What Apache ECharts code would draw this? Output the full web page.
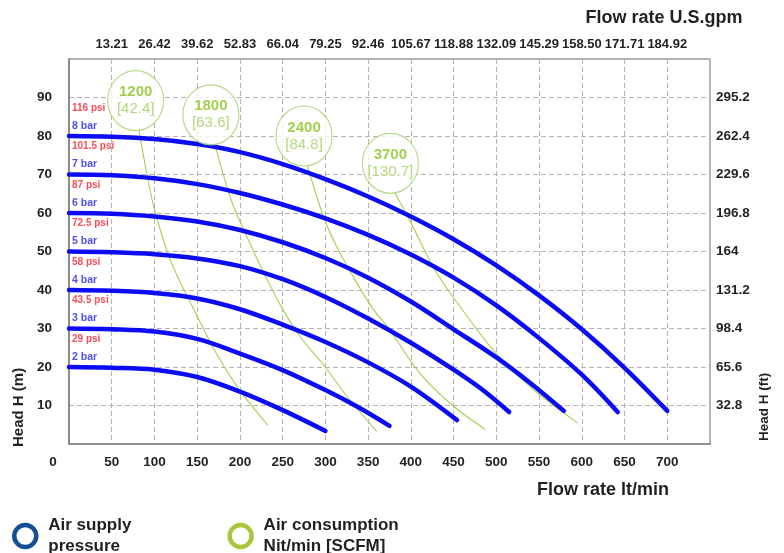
<!DOCTYPE html>
<html><head><meta charset="utf-8">
<script src="https://cdn.jsdelivr.net/npm/echarts@6/dist/echarts.min.js"></script>
<style>html,body{margin:0;padding:0;background:#fff}#c{width:784px;height:553px}</style>
</head><body><div id="c"></div>
<script>
// ---- tick labels ----
const bottomTicks = [0, 50, 100, 150, 200, 250, 300, 350, 400, 450, 500, 550, 600, 650, 700];
const topTickLabels = ['13.21','26.42','39.62','52.83','66.04','79.25','92.46','105.67','118.88','132.09','145.29','158.50','171.71','184.92'];
const leftTicks = [10, 20, 30, 40, 50, 60, 70, 80, 90];
const rightTickLabels = ['32.8','65.6','98.4','131.2','164','196.8','229.6','262.4','295.2'];

// ---- air supply pressure curves [flow lt/min, head m] ----
const pressureBar = ['8 bar','7 bar','6 bar','5 bar','4 bar','3 bar','2 bar'];
const pressurePsi = ['116 psi','101.5 psi','87 psi','72.5 psi','58 psi','43.5 psi','29 psi'];
const pressureHead = [80, 70, 60, 50, 40, 30, 20];
const curve8bar = [[0,80],[50,79.8],[100,79.2],[150,77.9],[200,75.8],[250,72.7],[300,68.8],[350,64.3],[400,59.1],[450,53.2],[500,46.4],[550,38.6],[600,29.8],[650,19.8],[700,8.6]];
const curve7bar = [[0,70],[50,69.8],[100,69],[150,67.5],[200,65.2],[250,62.2],[300,58.6],[350,54.3],[400,49.2],[450,43.2],[500,36],[550,27.5],[600,18],[642,8.3]];
const curve6bar = [[0,60],[50,59.8],[100,59.1],[150,57.8],[200,55.6],[250,52.4],[300,48.3],[350,43.2],[400,37],[450,29.8],[500,22.5],[540,15.8],[579,8.6]];
const curve5bar = [[0,50],[50,49.8],[100,49.3],[150,48.2],[200,46.2],[250,42.8],[300,38.2],[350,32.6],[400,26.3],[450,19.3],[483,14.2],[515,8.3]];
const curve4bar = [[0,40],[50,39.8],[100,39.2],[150,37.8],[200,35],[250,31],[300,26.5],[350,21.2],[400,14.9],[454,6.2]];
const curve3bar = [[0,30],[50,29.8],[100,29.2],[150,27.3],[200,23.5],[250,19.2],[300,14],[338,9.6],[375,4.7]];
const curve2bar = [[0,20],[50,19.8],[100,19.3],[150,17.4],[200,13.6],[250,8.8],[300,3.4]];

// ---- air consumption lines ----
const airLabels = ['1200','1800','2400','3700'];
const airScfm = ['42.4','63.6','84.8','130.7'];
const bubbleFlow = [78, 166, 275, 376];
const bubbleHead = [89.2, 85.5, 80, 72.9];
const air1200 = [[82,81.4],[92,69],[101,60],[120,47],[150,33.2],[172,23.7],[199,14.2],[233,4.8]];
const air1800 = [[171,77.5],[191,62.6],[210,53],[226,45.3],[247,36.2],[270,28],[299,20.2],[325,12.4],[360,3.3]];
const air2400 = [[279,72.1],[299,58.3],[315,50.5],[335,42.5],[355,35.3],[375,29.7],[410,18.5],[450,9.8],[487,3.8]];
const air3700 = [[381,65.3],[400,57.5],[426,46],[450,38],[496,24.5],[543,14.2],[595,5.5]];

const FONT = "'Liberation Sans', Arial, sans-serif";
const TXT = '#231f20';
const PRESS_NAME = 'Air supply\npressure';
const AIR_NAME = 'Air consumption\nNit/min [SCFM]';
const gridLine = { show: true, lineStyle: { color: '#b4b4b4', type: [5, 3], width: 1 } };
const axisLineStyle = { show: true, lineStyle: { color: '#8c8c8c', width: 1.5 } };
const lblStyle = { fontFamily: FONT, fontWeight: 'bold', fontSize: 13.5, color: TXT };

const pressureCurves = [curve8bar, curve7bar, curve6bar, curve5bar, curve4bar, curve3bar, curve2bar];
const airCurves = [air1200, air1800, air2400, air3700];

const series = [];
pressureCurves.forEach(c => series.push({
  type: 'line', name: PRESS_NAME, data: c, smooth: 0.35, showSymbol: false, symbol: 'none',
  lineStyle: { color: '#0b0bf5', width: 4.5, cap: 'round' }, z: 4, silent: true
}));
airCurves.forEach(c => series.push({
  type: 'line', name: AIR_NAME, data: c, smooth: 0.3, showSymbol: false, symbol: 'none',
  lineStyle: { color: '#a2cf55', width: 1.1 }, z: 3, silent: true
}));
series.push({
  type: 'scatter', name: AIR_NAME, symbol: 'circle', symbolSize: [56, 60], z: 6, silent: true,
  itemStyle: { color: '#ffffff', borderColor: '#a7d16b', borderWidth: 1.2 },
  data: bubbleFlow.map((f, i) => [f, bubbleHead[i], airLabels[i], airScfm[i]]),
  label: {
    show: true, position: 'inside',
    formatter: p => '{a|' + p.data[2] + '}\n{b|[' + p.data[3] + ']}',
    rich: {
      a: { fontFamily: FONT, fontWeight: 'bold', fontSize: 15, color: '#8cc322', lineHeight: 17, align: 'center' },
      b: { fontFamily: FONT, fontSize: 15, color: '#9fd05a', lineHeight: 17, align: 'center' }
    }
  }
});
series.push({
  type: 'scatter', name: 'psi', symbolSize: 0, z: 7, silent: true,
  data: pressureHead.map((h, i) => [0, h, pressurePsi[i]]),
  label: { show: true, position: 'right', distance: 3, offset: [0, -28], formatter: p => p.data[2],
    fontFamily: FONT, fontWeight: 'bold', fontSize: 10, color: '#f5222d' }
});
series.push({
  type: 'scatter', name: 'bar', symbolSize: 0, z: 7, silent: true,
  data: pressureHead.map((h, i) => [0, h, pressureBar[i]]),
  label: { show: true, position: 'right', distance: 3, offset: [0, -10], formatter: p => p.data[2],
    fontFamily: FONT, fontWeight: 'bold', fontSize: 10.5, color: '#2323e6' }
});

const chart = echarts.init(document.getElementById('c'), null, { renderer: 'canvas' });
chart.setOption({
  animation: false,
  backgroundColor: '#ffffff',
  grid: { left: 69, right: 74, top: 59, bottom: 109, show: true, borderColor: '#9a9a9a', borderWidth: 1.5, containLabel: false },
  xAxis: [
    { type: 'value', position: 'bottom', min: 0, max: 750, interval: 50,
      axisLine: axisLineStyle, axisTick: { show: false }, splitLine: gridLine,
      axisLabel: Object.assign({}, lblStyle, { margin: 11,
        formatter: v => v === 0 ? '{z|0}' : (bottomTicks.indexOf(v) >= 0 ? String(v) : ''),
        rich: { z: { fontFamily: FONT, fontWeight: 'bold', fontSize: 13.5, color: TXT, padding: [0, 32, 0, 0] } } }) },
    { type: 'value', position: 'top', min: 0, max: 750, interval: 50,
      axisLine: axisLineStyle, axisTick: { show: false }, splitLine: { show: false },
      axisLabel: Object.assign({}, lblStyle, { fontSize: 13, margin: 8,
        formatter: v => { const i = v / 50 - 1; return (i >= 0 && i < topTickLabels.length) ? topTickLabels[i] : ''; } }) }
  ],
  yAxis: [
    { type: 'value', position: 'left', min: 0, max: 100, interval: 10,
      axisLine: axisLineStyle, axisTick: { show: false }, splitLine: gridLine,
      axisLabel: Object.assign({}, lblStyle, { margin: 17,
        formatter: v => leftTicks.indexOf(v) >= 0 ? String(v) : '' }) },
    { type: 'value', position: 'right', min: 0, max: 100, interval: 10,
      axisLine: { show: true, lineStyle: { color: '#8c8c8c', width: 2 } }, axisTick: { show: false }, splitLine: { show: false },
      axisLabel: Object.assign({}, lblStyle, { margin: 6,
        formatter: v => { const i = Math.round(v / 10) - 1; return (i >= 0 && i < rightTickLabels.length) ? rightTickLabels[i] : ''; } }) }
  ],
  legend: {
    left: 7, top: 510, orient: 'horizontal', itemWidth: 22, itemHeight: 22, itemGap: 96, selectedMode: false,
    data: [
      { name: PRESS_NAME, icon: 'circle', itemStyle: { color: '#ffffff', borderColor: '#134f94', borderWidth: 4.5 } },
      { name: AIR_NAME, icon: 'circle', itemStyle: { color: '#ffffff', borderColor: '#a6c73b', borderWidth: 4.5 } }
    ],
    textStyle: { fontFamily: FONT, fontWeight: 'bold', fontSize: 17, color: TXT, lineHeight: 21, padding: [0, 0, 0, 7] }
  },
  graphic: [
    { type: 'text', x: 19, y: 447, rotation: Math.PI / 2,
      style: { text: 'Head H (m)', fontFamily: FONT, fontWeight: 'bold', fontSize: 15, fill: TXT, align: 'left', verticalAlign: 'middle' } },
    { type: 'text', x: 764, y: 441, rotation: Math.PI / 2,
      style: { text: 'Head H (ft)', fontFamily: FONT, fontWeight: 'bold', fontSize: 13.5, fill: TXT, align: 'left', verticalAlign: 'middle' } },
    { type: 'text', x: 603, y: 490,
      style: { text: 'Flow rate lt/min', fontFamily: FONT, fontWeight: 'bold', fontSize: 18, fill: TXT, align: 'center', verticalAlign: 'middle' } },
    { type: 'text', x: 664, y: 18,
      style: { text: 'Flow rate U.S.gpm', fontFamily: FONT, fontWeight: 'bold', fontSize: 18, fill: TXT, align: 'center', verticalAlign: 'middle' } }
  ],
  series: series
});
</script></body></html>
